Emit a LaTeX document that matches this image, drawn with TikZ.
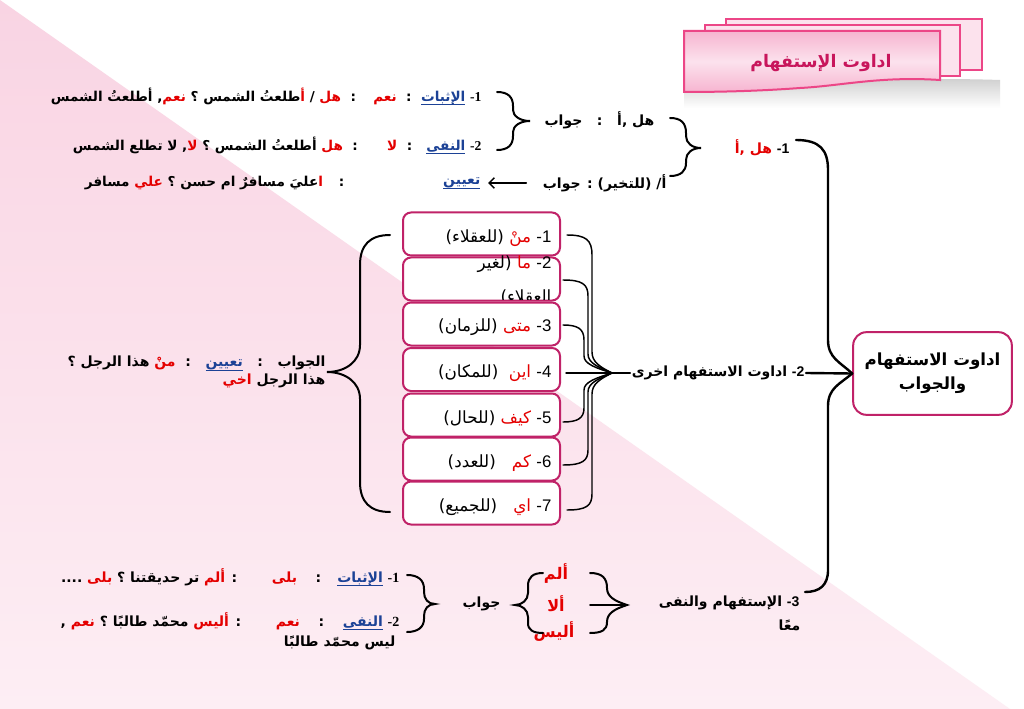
\documentclass[tikz,border=0pt]{standalone}
\usepackage{fontspec}
\setmainfont{Liberation Sans}
\newfontfamily\arabicfont[Script=Arabic]{DejaVu Sans}
\newfontfamily\arred[Script=Arabic,Color=E40000]{DejaVu Sans}
\newfontfamily\arblue[Script=Arabic,Color=1C4296]{DejaVu Sans}
\newfontfamily\tmsfont{Liberation Serif}
\TeXXeTstate=1
\usetikzlibrary{arrows.meta,calc}
\definecolor{ared}{RGB}{228,0,0}
\definecolor{crim}{RGB}{192,34,104}
\definecolor{bgA}{RGB}{249,212,227}
\definecolor{bgB}{RGB}{253,238,244}
\definecolor{bnline}{RGB}{236,70,135}
\definecolor{bnA}{RGB}{246,180,208}
\definecolor{bnB}{RGB}{252,226,237}
\definecolor{ttl}{RGB}{200,22,92}
\newcommand\arx[1]{{\arabicfont\beginR #1\endR}}
\newcommand\rd[1]{{\arred #1}}
\newcommand\tn[1]{{\tmsfont #1}}
\newcommand\ls[1]{{\rmfamily #1}}
\makeatletter
\newsavebox\ulbox
\newlength\ulw
% blue underlined word: the underline is one self-contained pdf drawing centred on the word
\newcommand\bu[1]{%
  \sbox\ulbox{\arblue #1}%
  \ulw=0.49813\wd\ulbox
  \edef\ulh{\strip@pt\ulw}%
  \hbox{\hbox to \wd\ulbox{\hss\special{pdf:content q 0.11 0.259 0.588 RG 0.75 w -\ulh\space -2.6 m \ulh\space -2.6 l S Q}\hss}\kern-\wd\ulbox\usebox\ulbox}}
\makeatother
\tikzset{
  txt/.style={inner sep=1pt, font=\bfseries\fontsize{10.5}{13}\selectfont},
  txs/.style={inner sep=1pt, font=\bfseries\fontsize{10.2}{13}\selectfont},
  btxt/.style={inner sep=1pt, font=\fontsize{12.6}{14}\selectfont},
  qbox/.style={draw=crim, line width=1.5pt, rounded corners=6pt, fill=white,
    minimum width=117.75pt, minimum height=32.25pt, inner sep=0pt},
  rootbox/.style={draw=crim, line width=1.5pt, rounded corners=10pt, fill=white,
    minimum width=119pt, minimum height=62pt, align=center,
    font=\bfseries\fontsize{12.5}{18}\selectfont},
  brc/.style={line width=1.5pt, line cap=round},
  cn/.style={line width=1.1pt, line cap=round},
  bigc/.style={line width=1.8pt, line cap=round},
  bnback/.style={fill=bnB, draw=bnline, line width=1.5pt},
  redw/.style={inner sep=1pt, text=ared, font=\bfseries\fontsize{12}{14}\selectfont},
}
\begin{document}
\begin{tikzpicture}[x=0.75pt,y=-0.75pt]
\useasboundingbox (0,0) rectangle (1024,709);
\fill[white] (0,0) rectangle (1024,709);
\shade[top color=bgA, bottom color=bgB] (0,0) -- (1010,709) -- (0,709) -- cycle;

% ---- title banner
\filldraw[bnback] (726,19) rectangle (982,70);
\filldraw[bnback] (705,25) rectangle (960,76);
\shade[top color=black!20, bottom color=white] (684,92) .. controls (720,92) and (760,91) .. (800,88) .. controls (840,86) and (880,76) .. (1000,80) -- (1000,108) -- (684,108) -- cycle;
\shadedraw[top color=bnA, bottom color=bnA, middle color=bnB, draw=bnline, line width=1.5pt]
  (684,31) -- (940,31) -- (940,80) .. controls (880,76) and (840,86) .. (800,88) .. controls (760,91) and (720,92) .. (684,92) -- cycle;
\node[inner sep=0pt, text=ttl, font=\bfseries\fontsize{13}{15}\selectfont] (title) at (821,63) {\arx{اداوت الإستفهام}};

% ---- root box
\node[rootbox] (root) at (932.5,373.5) {\arx{اداوت الاستفهام}\\\arx{والجواب}};

% ---- branch 1
\node[txt, anchor=east] (h1) at (791,148) {\arx{\ls{-1} \rd{هل ,\kern0pt أ}}};
\node[txt, anchor=east] (q1) at (656,120) {\arx{هل ,\kern0pt أ\ \ \ :\ \ \ جواب}};
\node[txt, anchor=east] (q2) at (668,183) {\arx{أ/ (للتخير) : جواب}};
\node[txs, anchor=east] (rA) at (483,96) {\arx{\tn{-1} \bu{الإثبات}\ \ :\ \ \rd{نعم}\hspace{13pt}:\ \ \rd{هل} / \rd{أ}طلعتُ الشمس ؟ \rd{نعم}, أطلعتُ الشمس}};
\node[txs, anchor=east] (rB) at (483,145) {\arx{\tn{-2} \bu{النفى}\ \ \ :\ \ \rd{لا}\hspace{22pt}:\ \ \rd{هل} أطلعتُ الشمس ؟ \rd{لا}, لا تطلع الشمس}};
\node[txt, anchor=east] (rC1) at (482,183) {\arx{\bu{تعيين}}};
\node[txs, anchor=east] (rC2) at (346,183) {\arx{:\hspace{12pt}\rd{ا}عليَ مسافرٌ ام حسن ؟ \rd{علي} مسافر}};

\draw[brc] (497,92) .. controls (508,92) and (513,97) .. (513,106) -- (513,110) .. controls (513,116) and (520,121) .. (530,121)
  .. controls (520,121) and (513,126) .. (513,132) -- (513,136) .. controls (513,145) and (508,150) .. (497,150);
\draw[brc] (670,118) .. controls (681,118) and (686,123) .. (686,133) -- (686,136) .. controls (686,143) and (692,148) .. (701,148)
  .. controls (692,148) and (686,153) .. (686,160) -- (686,163) .. controls (686,171) and (681,176) .. (670,176);
\draw[cn, -{Straight Barb[length=4pt,width=8pt]}] ($(q2.west)+(-15,0)$) -- ($(rC1.east)+(6,0)$);

% ---- branch 2 : boxes
\node[qbox] (b1) at (481.5,234) {};
\node[qbox] (b2) at (481.5,279) {};
\node[btxt, anchor=east] (t2a) at (553,264) {\arx{\ls{-2} \rd{ما} (لغير}};
\begin{scope}
  \clip (403,258) rectangle (560,299.5);
  \node[btxt, anchor=east] (t2b) at (553,297) {\arx{العقلاء)}};
\end{scope}
\node[qbox] (b3) at (481.5,324) {};
\node[qbox] (b4) at (481.5,369.5) {};
\node[qbox] (b5) at (481.5,415) {};
\node[qbox] (b6) at (481.5,459) {};
\node[qbox] (b7) at (481.5,503) {};
\node[btxt, anchor=east] (t1) at (553,238) {\arx{\ls{-1} \rd{منْ} (للعقلاء)}};
\node[btxt, anchor=east] (t3) at (553,327) {\arx{\ls{-3} \rd{متى} (للزمان)}};
\node[btxt, anchor=east] (t4) at (553,373) {\arx{\ls{-4} \rd{اين}\ \ (للمكان)}};
\node[btxt, anchor=east] (t5) at (553,418) {\arx{\ls{-5} \rd{كيف} (للحال)}};
\node[btxt, anchor=east] (t6) at (553,463) {\arx{\ls{-6} \rd{كم}\ \ \ (للعدد)}};
\node[btxt, anchor=east] (t7) at (553,507) {\arx{\ls{-7} \rd{اي}\ \ \ (للجميع)}};

\node[txt, anchor=east] (h2) at (806,373) {\arx{\ls{-2} اداوت الاستفهام اخرى}};
\coordinate (m2) at (612,373);
\draw[cn] ($(b1.east)+(6,1)$) .. controls (586,235) and (592,240) .. (592,255) -- (592,352) .. controls (592,362) and (600,367) .. (m2);
\draw[cn] ($(b2.east)+(2,1)$) .. controls (582,280) and (588,284) .. (588,296) -- (588,354) .. controls (588,363) and (598,367) .. (m2);
\draw[cn] ($(b3.east)+(2,1)$) .. controls (578,325) and (584,329) .. (584,340) -- (584,356) .. controls (584,364) and (596,368) .. (m2);
\draw[cn] ($(b4.east)+(5,3.5)$) -- (m2);
\draw[cn] ($(b5.east)+(2,7)$) .. controls (578,422) and (584,418) .. (584,408) -- (584,390) .. controls (584,382) and (596,378) .. (m2);
\draw[cn] ($(b6.east)+(2,6)$) .. controls (582,465) and (588,461) .. (588,450) -- (588,392) .. controls (588,383) and (598,379) .. (m2);
\draw[cn] ($(b7.east)+(6,7)$) .. controls (586,510) and (592,506) .. (592,494) -- (592,394) .. controls (592,384) and (600,379) .. (m2);
\draw[cn] (m2) -- (h2.west);

\node[txt, anchor=east, align=right] (ans) at (327,372) {\arx{الجواب\ \ \ :\ \ \ \bu{تعيين}\ \ \ :\ \ \rd{منْ} هذا الرجل ؟}\\\arx{هذا الرجل \rd{اخي}}};
\draw[brc] (390,235) .. controls (370,235) and (360,245) .. (360,265) -- (360,345) .. controls (360,362) and (345,372) .. (ans.east)
  .. controls (345,372) and (360,382) .. (360,399) -- (360,482) .. controls (360,502) and (370,512) .. (390,512);

% ---- branch 3
\node[txt, anchor=east] (h3) at (801,603) {\arx{\ls{-3} الإستفهام والنفى}};
\node[txt, anchor=east] (h3b) at (802,625) {\arx{معًا}};
\node[redw] (n1) at (556,574) {\arx{ألم}};
\node[redw] (n2) at (556,604) {\arx{ألا}};
\node[redw] (n3) at (554,632) {\arx{أليس}};
\coordinate (m3) at (627,605);
\draw[brc] (590,573) .. controls (602,573) and (607,578) .. (607,588) .. controls (607,597) and (615,601) .. (m3)
  .. controls (615,609) and (607,613) .. (607,622) .. controls (607,630) and (602,633) .. (590,633);
\draw[brc] (590,605) -- (m3);
\node[txt, anchor=east] (jw) at (502,604) {\arx{جواب}};
\draw[brc] (543,573) .. controls (533,573) and (528,577) .. (528,586) -- (528,593) .. controls (528,600) and (522,605) .. (515,605)
  .. controls (522,605) and (528,610) .. (528,617) -- (528,623) .. controls (528,630) and (533,633) .. (543,633);
\draw[brc] (407,575) .. controls (418,575) and (424,580) .. (424,589) -- (424,592) .. controls (424,599) and (428,604) .. (435,604)
  .. controls (428,604) and (424,609) .. (424,616) -- (424,619) .. controls (424,627) and (418,632) .. (407,632);
\node[txt, anchor=east] (rD) at (401,577) {\arx{\tn{-1} \bu{الإثبات}\hspace{12pt}:\hspace{14pt}\rd{بلى}\hspace{26pt}: \rd{ألم} تر حديقتنا ؟ \rd{بلى}\ ....}};
\node[txt, anchor=east] (rE) at (401,621) {\arx{\tn{-2} \bu{النفى}\hspace{14pt}:\hspace{14pt}\rd{نعم}\hspace{26pt}: \rd{أليس} محمّد طالبًا ؟ \rd{نعم} ,}};
\node[txt, anchor=east] (rF) at (397,643) {\arx{ليس محمّد طالبًا}};

% ---- big brace to root
\draw[bigc] ($(h1.east)+(5,-8)$) .. controls (820,140) and (828,150) .. (828,170) -- (828,340) .. controls (828,358) and (840,362) .. (root.west);
\draw[bigc] ($(h3.east)+(4,-11)$) .. controls (820,592) and (828,585) .. (828,570) -- (828,406) .. controls (828,388) and (840,384) .. (root.west);
\draw[bigc] (h2.east) -- (root.west);
\end{tikzpicture}
\end{document}
